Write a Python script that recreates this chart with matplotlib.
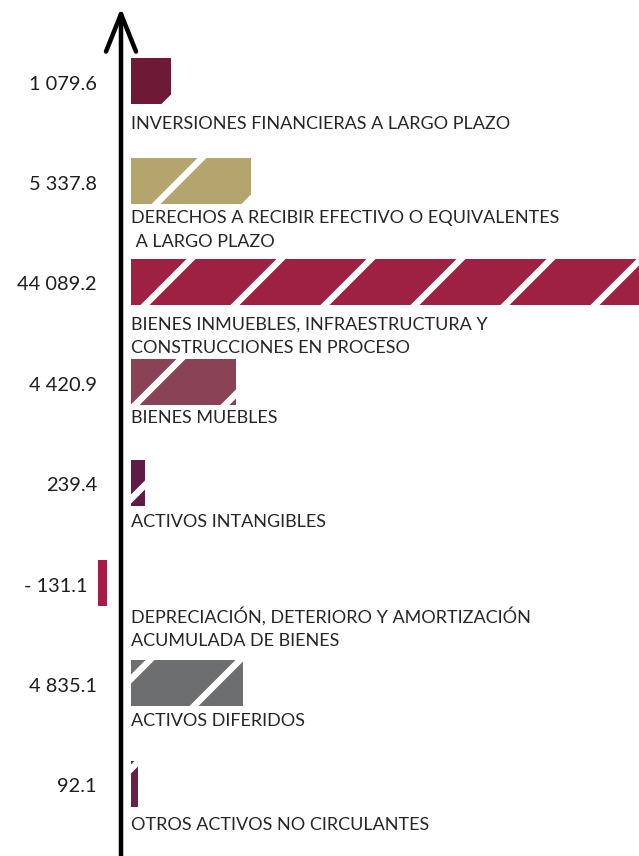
import numpy as np
import matplotlib
matplotlib.use("Agg")
import matplotlib.pyplot as plt
from matplotlib import transforms

categories = [
    "INVERSIONES FINANCIERAS A LARGO PLAZO",
    "DERECHOS A RECIBIR EFECTIVO O EQUIVALENTES\n A LARGO PLAZO",
    "BIENES INMUEBLES, INFRAESTRUCTURA Y\nCONSTRUCCIONES EN PROCESO",
    "BIENES MUEBLES",
    "ACTIVOS INTANGIBLES",
    "DEPRECIACIÓN, DETERIORO Y AMORTIZACIÓN\nACUMULADA DE BIENES",
    "ACTIVOS DIFERIDOS",
    "OTROS ACTIVOS NO CIRCULANTES",
]
values = [1079.6, 5337.8, 44089.2, 4420.9, 239.4, -131.1, 4835.1, 92.1]
value_labels = ["1 079.6", "5 337.8", "44 089.2", "4 420.9", "239.4", "- 131.1", "4 835.1", "92.1"]
colors = ["#6e1a36", "#b3a56d", "#9e2042", "#8a4257", "#5f1b47", "#a51d46", "#6d6e70", "#6a1f4a"]

# layout: gap (px) between bar centre and top of its label
label_gap_px = [35, 29, 35, 28, 31, 24, 30, 33]

DPI = 270
W, H = 639, 856
plt.rcParams["hatch.linewidth"] = 1.7
plt.rcParams["font.family"] = ["Lato", "DejaVu Sans"]

fig = plt.figure(figsize=(W / DPI, H / DPI), dpi=DPI)
ax = fig.add_axes([0, 0, 1, 1])

p = 0.69
fwd = lambda x: np.sign(x) * np.abs(x) ** p
inv = lambda y: np.sign(y) * np.abs(y) ** (1 / p)
ax.set_xscale("function", functions=(fwd, inv))
S = 112 / fwd(4835.1)  # px per transformed unit
x0px = 131
ax.set_xlim(inv(-x0px / S), inv((W - x0px) / S))

first, step = 81, 100.4
ax.set_ylim((H - first) / step, -first / step)

fs = 18 * 72 / DPI
fs_val = 20 * 72 / DPI
for i, (v, c) in enumerate(zip(values, colors)):
    b = ax.barh(i, v, height=0.46, left=0, color=c, edgecolor="white",
                linewidth=0, hatch="/")[0]
    if v < 0:
        b.set_transform(ax.transData + transforms.ScaledTranslation(-24 / DPI, 0, fig.dpi_scale_trans))

blend = transforms.blended_transform_factory(ax.transAxes, ax.transData)
for i, (v, lab) in enumerate(zip(values, value_labels)):
    xr = 97 if v >= 0 else 88
    ax.text(xr / W, i + 3 / step, lab, transform=blend, ha="right", va="center",
            fontsize=fs_val, color="#1e1e1e")

for i, cat in enumerate(categories):
    ax.text(0, i + label_gap_px[i] / step, cat, ha="left", va="top", fontsize=fs,
            color="#262626", linespacing=1.55)

ax.annotate("", xy=(121 / W, 1 - 8 / H), xytext=(121 / W, -0.01), xycoords="axes fraction",
            arrowprops=dict(arrowstyle="->,head_length=1.0,head_width=0.4", lw=1.2,
                            color="black", mutation_scale=10, shrinkA=0, shrinkB=0))

ax.axis("off")
fig.savefig("out.png", dpi=DPI)
